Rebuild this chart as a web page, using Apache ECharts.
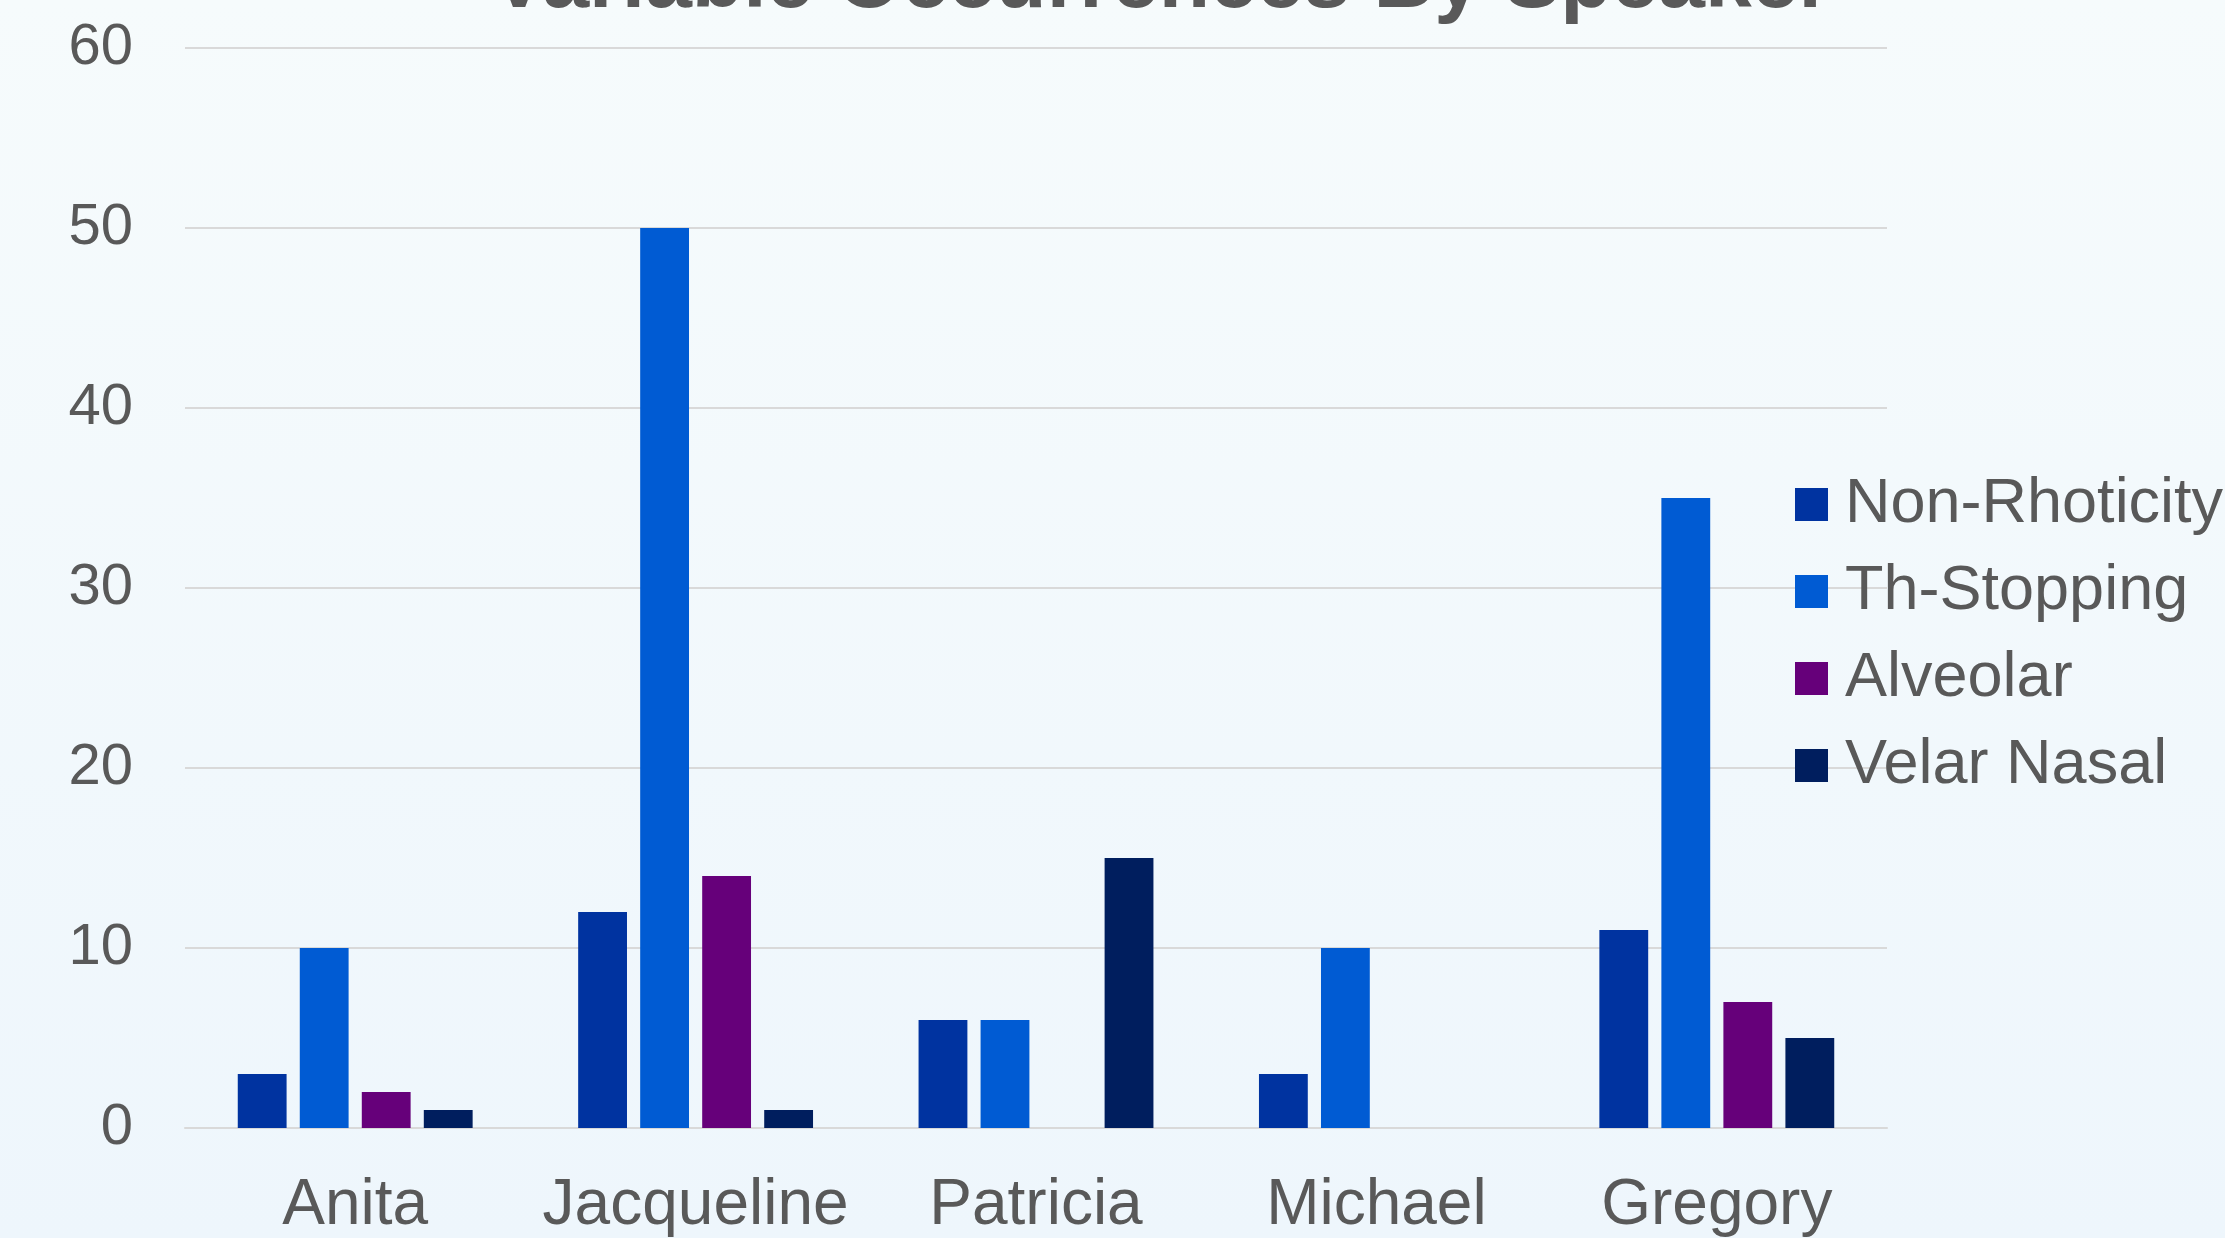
<!DOCTYPE html>
<html>
<head>
<meta charset="utf-8">
<script src="https://cdn.jsdelivr.net/npm/echarts@6/dist/echarts.min.js"></script>
<style>
  html, body { margin: 0; padding: 0; }
  #chart { width: 2225px; height: 1238px; }
</style>
</head>
<body>
<div id="chart"></div>
<script>
// speakers on the x axis
var speakers = ["Anita", "Jacqueline", "Patricia", "Michael", "Gregory"];
// one array per variable
var nonRhoticity = [3, 12, 6, 3, 11];
var thStopping = [10, 50, 6, 10, 35];
var alveolar = [2, 14, 0, 0, 7];
var velarNasal = [1, 1, 15, 0, 5];
var seriesNames = ["Non-Rhoticity", "Th-Stopping", "Alveolar", "Velar Nasal"];
var colors = ["#0033a0", "#005bd3", "#66007a", "#001e5e"];

var fontFamily = "'Liberation Sans', Arial, sans-serif";
var textColor = "#595959";

var myChart = echarts.init(document.getElementById("chart"));

function makeBar(name, data, color) {
  return {
    name: name,
    type: "bar",
    data: data,
    barGap: "27%",
    barCategoryGap: "31%",
    itemStyle: { color: color }
  };
}

myChart.setOption({
  backgroundColor: new echarts.graphic.LinearGradient(0, 0, 0, 1, [
    { offset: 0, color: "#f6fbfc" },
    { offset: 1, color: "#eef6fc" }
  ]),
  color: colors,
  title: {
    text: "Variable Occurrences By Speaker",
    left: 491,
    top: -58,
    padding: 0,
    textStyle: {
      fontFamily: fontFamily,
      fontSize: 84,
      fontWeight: "bold",
      color: textColor
    }
  },
  legend: {
    orient: "vertical",
    left: 1795,
    top: 473,
    padding: 0,
    itemWidth: 33,
    itemHeight: 33,
    itemGap: 24,
    icon: "rect",
    data: seriesNames,
    textStyle: {
      fontFamily: fontFamily,
      fontSize: 63,
      color: textColor,
      padding: [0, 0, 0, 12]
    }
  },
  grid: {
    left: 185,
    right: 338,
    top: 48,
    bottom: 110,
    containLabel: false
  },
  xAxis: {
    type: "category",
    data: speakers,
    axisTick: { show: false },
    axisLine: { lineStyle: { color: "#d9d9d9", width: 2 } },
    axisLabel: {
      interval: 0,
      margin: 46,
      fontFamily: fontFamily,
      fontSize: 64,
      color: textColor
    }
  },
  yAxis: {
    type: "value",
    min: 0,
    max: 60,
    interval: 10,
    axisLine: { show: false },
    axisTick: { show: false },
    axisLabel: {
      margin: 52,
      fontFamily: fontFamily,
      fontSize: 58,
      color: textColor
    },
    splitLine: {
      show: true,
      lineStyle: { color: "#d9d9d9", width: 2 }
    }
  },
  series: [
    makeBar(seriesNames[0], nonRhoticity, colors[0]),
    makeBar(seriesNames[1], thStopping, colors[1]),
    makeBar(seriesNames[2], alveolar, colors[2]),
    makeBar(seriesNames[3], velarNasal, colors[3])
  ]
});
</script>
</body>
</html>
